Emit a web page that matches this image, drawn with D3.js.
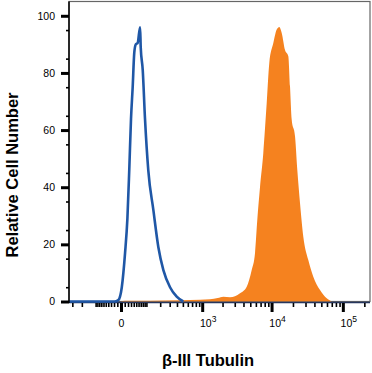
<!DOCTYPE html>
<html lang="en">
<head>
    <meta charset="UTF-8">
    <title>beta-III Tubulin histogram</title>
    <script src="https://d3js.org/d3.v7.min.js"></script>
    <style>
        body { margin: 0; background: #fff; }
        text { font-family: "Liberation Sans", Arial, sans-serif; }
    </style>
</head>
<body>
    <div id="chart"></div>

    <script>
        // Isotype control (blue outline), fluorescence value vs relative cell number
        const blueX = [-343, -17, -7, 2, 11, 18, 24, 30, 36, 42, 48, 56, 67, 70, 80, 92, 111, 145, 184, 230, 304, 396, 508];
        const blueY = [0, 0, 0.5, 5, 17, 29, 46, 64, 75, 87, 90, 90.5, 96, 89, 81, 64, 46, 32, 19, 11, 5, 1.7, 0];

        // beta-III Tubulin stained (orange filled)
        const orangeX = [-2, 11, 122, 449, 927, 1309, 1700, 2052, 2564, 3571, 4448, 5238, 5838, 6288, 6865, 7647, 8540,
            9290, 10586, 11811, 12853, 13896, 15468, 17206, 18178, 19213, 21377, 23021, 25130, 27942, 32832, 38576,
            47913, 59487, 69876];
        const orangeY = [0, 0.3, 0.3, 0.4, 0.6, 0.8, 1.2, 1.7, 1.5, 2.9, 5.2, 11, 17, 28.6, 40, 52, 69.5, 83.5,
            90.5, 95.2, 96.1, 94, 88, 85.8, 75.3, 63.6, 57.8, 46, 34.4, 22.7, 14.5, 8.7, 4, 1.1, 0];

        // Axis ticks
        const xMajor = [0, 1000, 10000, 100000];
        const xExp = [null, "3", "4", "5"];
        const yMajor = [0, 20, 40, 60, 80, 100];

        const width = 372, height = 373;
        const plotLeft = 69, plotRight = 370, plotTop = 1.5, plotBottom = 301.5;

        const svg = d3.select("#chart")
            .append("svg")
            .attr("width", width)
            .attr("height", height);

        // biexponential-like x scale
        const x = d3.scaleSymlog()
            .constant(79)
            .domain([-343, 240000])
            .range([plotLeft, plotRight]);

        const y = d3.scaleLinear()
            .domain([0, 105])
            .range([plotBottom, plotTop]);

        // minor ticks: 1..9 x 10^n on both sides of zero
        const xMinor = [];
        for (let n = 1; n <= 5; n++) {
            for (let m = 1; m <= 9; m++) {
                const v = m * Math.pow(10, n);
                if (xMajor.indexOf(v) < 0 && v < 240000) xMinor.push(v);
                if (-v > -343) xMinor.push(-v);
            }
        }
        const yMinor = d3.range(5, 101, 10);

        // frame
        svg.append("rect")
            .attr("x", plotLeft)
            .attr("y", plotTop)
            .attr("width", plotRight - plotLeft)
            .attr("height", plotBottom - plotTop)
            .attr("fill", "none")
            .attr("stroke", "#666")
            .attr("stroke-width", 1.2);

        // orange area
        const area = d3.area()
            .x(d => x(d[0]))
            .y0(y(0))
            .y1(d => y(d[1]))
            .curve(d3.curveMonotoneX);

        svg.append("path")
            .datum(orangeX.map((v, i) => [v, orangeY[i]]))
            .attr("fill", "#f5821f")
            .attr("d", area);

        // x axis line
        svg.append("line")
            .attr("x1", plotLeft)
            .attr("x2", plotRight)
            .attr("y1", plotBottom + 1)
            .attr("y2", plotBottom + 1)
            .attr("stroke", "#26365e")
            .attr("stroke-width", 1.5);

        // blue outline
        const line = d3.line()
            .x(d => x(d[0]))
            .y(d => y(d[1]))
            .curve(d3.curveMonotoneX);

        svg.append("path")
            .datum(blueX.map((v, i) => [v, blueY[i]]))
            .attr("fill", "none")
            .attr("stroke", "#1f57a6")
            .attr("stroke-width", 2.6)
            .attr("stroke-linejoin", "round")
            .attr("d", line);

        // x axis ticks
        const xMinorAxis = svg.append("g")
            .attr("transform", `translate(0,${plotBottom + 1.5})`)
            .call(d3.axisBottom(x).tickValues(xMinor).tickSize(4).tickFormat(""));
        xMinorAxis.select(".domain").remove();
        xMinorAxis.selectAll("line").attr("stroke", "#000").attr("stroke-width", 1.6);

        const xMajorAxis = svg.append("g")
            .attr("transform", `translate(0,${plotBottom + 1.5})`)
            .call(d3.axisBottom(x).tickValues(xMajor).tickSize(9).tickFormat(""));
        xMajorAxis.select(".domain").remove();
        xMajorAxis.selectAll("line").attr("stroke", "#000").attr("stroke-width", 3);

        // x tick labels
        xMajor.forEach((v, i) => {
            const t = svg.append("text")
                .attr("y", 327)
                .attr("font-size", "10.5px")
                .attr("fill", "#000");
            if (xExp[i] === null) {
                t.attr("x", x(v) + 0.5).attr("text-anchor", "middle").text("0");
            } else {
                t.attr("x", x(v) + 6).attr("text-anchor", "middle");
                t.append("tspan").text("10");
                t.append("tspan")
                    .attr("dy", "-5")
                    .attr("font-size", "8.5px")
                    .text(xExp[i]);
            }
        });

        // y axis
        const yMinorAxis = svg.append("g")
            .attr("transform", `translate(${plotLeft},0)`)
            .call(d3.axisLeft(y).tickValues(yMinor).tickSize(3).tickFormat(""));
        yMinorAxis.select(".domain").remove();
        yMinorAxis.selectAll("line").attr("stroke", "#000").attr("stroke-width", 1.6);

        const yMajorAxis = svg.append("g")
            .attr("transform", `translate(${plotLeft},0)`)
            .call(d3.axisLeft(y).tickValues(yMajor).tickSize(8).tickPadding(6));
        yMajorAxis.select(".domain").remove();
        yMajorAxis.selectAll("line").attr("stroke", "#000").attr("stroke-width", 3);
        yMajorAxis.selectAll("text")
            .attr("font-size", "10.5px")
            .attr("font-family", "Liberation Sans, Arial, sans-serif")
            .attr("fill", "#000");

        svg.append("line")
            .attr("x1", plotLeft)
            .attr("x2", plotLeft)
            .attr("y1", plotTop)
            .attr("y2", plotBottom + 1.5)
            .attr("stroke", "#000")
            .attr("stroke-width", 1.5);

        // axis titles
        svg.append("text")
            .attr("transform", "translate(17.5,175) rotate(-90)")
            .attr("text-anchor", "middle")
            .attr("font-size", "16.5px")
            .attr("font-weight", "bold")
            .text("Relative Cell Number");

        svg.append("text")
            .attr("x", 208)
            .attr("y", 366)
            .attr("text-anchor", "middle")
            .attr("font-size", "16.5px")
            .attr("font-weight", "bold")
            .text("β-III Tubulin");
    </script>
</body>
</html>
